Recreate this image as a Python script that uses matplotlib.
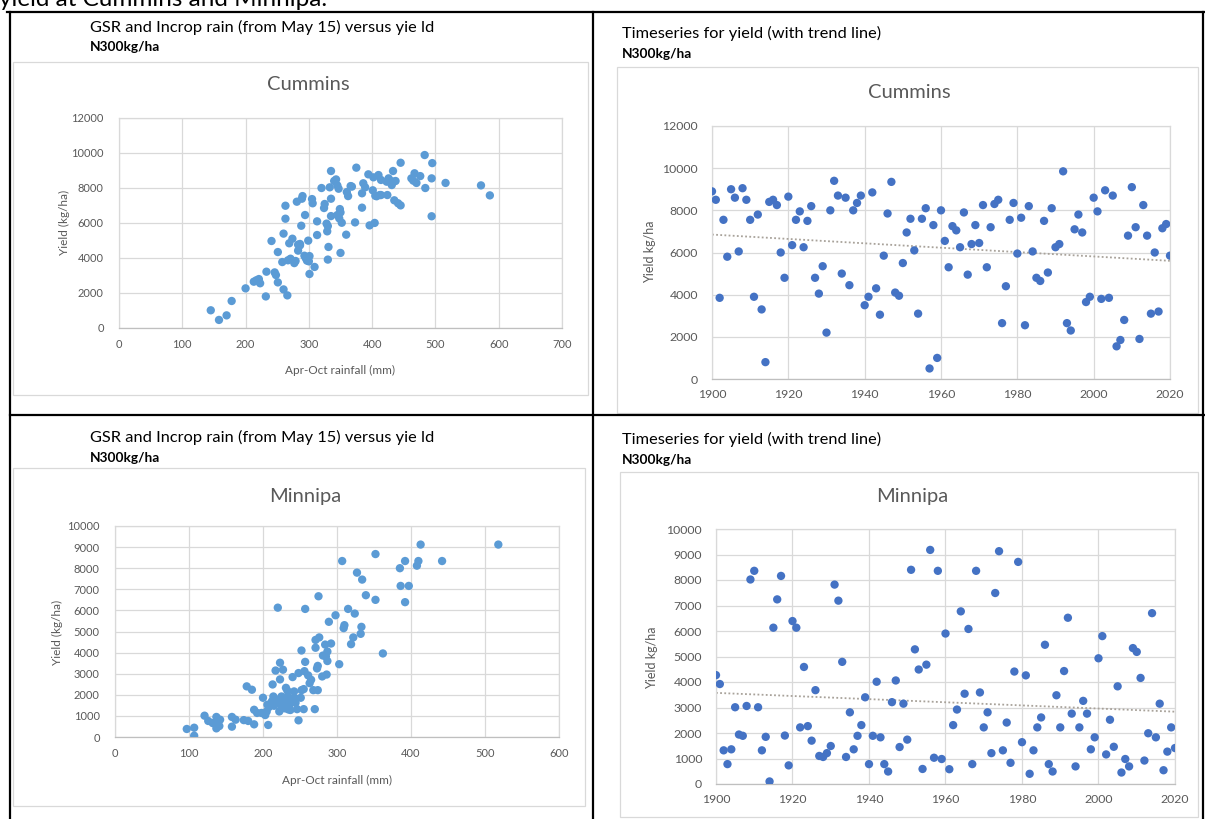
import numpy as np
import matplotlib
matplotlib.use("Agg")
import matplotlib.pyplot as plt
from matplotlib.lines import Line2D
from matplotlib.patches import Rectangle

plt.rcParams["font.family"] = ["Lato", "DejaVu Sans"]

# =========================
# Data
# =========================

YEARS = list(range(1900, 2021))

# Cummins yield by year (kg/ha)
CUMMINS_YIELD = [
    8900, 8500, 3850, 7550, 5800, 9000, 8600, 6050, 9050, 8500,
    7550, 3900, 7800, 3300, 800, 8400, 8500, 8250, 6000, 4800,
    8650, 6350, 7550, 7950, 6250, 7500, 8200, 4800, 4050, 5350,
    2200, 8000, 9400, 8700, 5000, 8600, 4450, 8000, 8350, 8700,
    3500, 3900, 8850, 4300, 3050, 5850, 7850, 9350, 4100, 3950,
    5500, 6950, 7600, 6100, 3100, 7600, 8100, 500, 7300, 1000,
    8000, 6550, 5300, 7250, 7050, 6250, 7900, 4950, 6400, 7300,
    6450, 8250, 5300, 7200, 8300, 8500, 2650, 4400, 7550, 8350,
    5950, 7650, 2550, 8200, 6050, 4800, 4650, 7500, 5050, 8100,
    6250, 6400, 9850, 2650, 2300, 7100, 7800, 6950, 3650, 3900,
    8600, 7950, 3800, 8950, 3850, 8700, 1550, 1850, 2800, 6800,
    9100, 7200, 1900, 8250, 6800, 3100, 6000, 3200, 7150, 7350,
    5850,
]

# Minnipa yield by year (kg/ha)
MINNIPA_YIELD = [
    4270, 3920, 1320, 780, 1360, 3010, 1940, 1890, 3060, 8020,
    8360, 3010, 1320, 1850, 100, 6130, 7240, 8160, 1900, 730,
    6390, 6130, 2220, 4590, 2270, 1700, 3680, 1100, 1060, 1210,
    1490, 7820, 7190, 4790, 1060, 2810, 1360, 1890, 2310, 3400,
    780, 1890, 4010, 1830, 780, 490, 3210, 4060, 1450, 3150,
    1740, 8400, 5280, 4490, 590, 4680, 9180, 1030, 8360, 980,
    5900, 580, 2310, 2920, 6770, 3540, 6080, 780, 8360, 3590,
    2220, 2810, 1210, 7490, 9130, 1320, 2410, 830, 4410, 8710,
    1640, 4260, 400, 1320, 2220, 2610, 5460, 780, 490, 3480,
    2220, 4430, 6520, 2760, 690, 2220, 3260, 2760, 1360, 1830,
    4930, 5800, 1160, 2520, 1460, 3830, 450, 980, 690, 5330,
    5180, 4160, 920, 1990, 6700, 1830, 3150, 540, 1270, 2220,
    1410,
]

# Cummins: Apr-Oct rainfall (mm) vs yield (kg/ha)
CUMMINS_RAIN = [
    145, 158, 170, 178, 200, 213, 217, 221, 223, 232, 233, 241, 246, 248,
    251, 251, 258, 260, 260, 263, 263, 266, 267, 269, 271, 274, 277, 279,
    281, 283, 283, 286, 288, 289, 290, 293, 294, 295, 297, 299, 300, 301,
    301, 305, 306, 309, 313, 313, 320, 324, 325, 328, 329, 330, 330, 331,
    333, 335, 335, 335, 340, 343, 345, 347, 348, 350, 350, 352, 359, 360,
    362, 366, 368, 373, 375, 384, 384, 386, 389, 394, 396, 401, 402, 404,
    405, 407, 410, 412, 414, 423, 424, 426, 429, 431, 433, 433, 435, 437,
    441, 445, 445, 462, 465, 467, 470, 476, 483, 484, 494, 494, 495, 516,
    572, 586, 286, 349, 345, 414, 298,
]
CUMMINS_RAIN_YIELD = [
    1010, 460, 720, 1540, 2260, 2640, 2720, 2790, 2550, 1800, 3210, 4960, 3170, 3020,
    4330, 2600, 3760, 2200, 5380, 6230, 6970, 1860, 3860, 4830, 3950, 5090, 3700, 3820,
    7200, 4750, 4410, 4790, 5830, 7370, 7520, 4120, 6440, 3990, 3840, 4980, 3800, 3080,
    4100, 7350, 7110, 3480, 5300, 6080, 7980, 6840, 7070, 5950, 5510, 5810, 3900, 4620,
    8020, 7370, 8950, 6380, 8380, 8470, 6440, 7940, 6250, 6590, 4280, 6000, 5320, 7750,
    7520, 8090, 8060, 6020, 9140, 6860, 7680, 8250, 8020, 8760, 5850, 7850, 8590, 5990,
    7540, 7510, 8720, 7580, 7580, 8340, 7580, 8530, 8380, 8150, 8950, 8340, 7280, 8380,
    7110, 6990, 9420, 8530, 8400, 8820, 8270, 8660, 9860, 7980, 8530, 6370, 9400, 8270,
    8130, 7560, 4710, 6780, 8130, 8440, 3970,
]

# Minnipa: Apr-Oct rainfall (mm) vs yield (kg/ha)
MINNIPA_RAIN = [
    97, 107, 107, 121, 126, 132, 137, 137, 139, 141, 142, 158, 158, 163,
    174, 178, 180, 185, 188, 188, 192, 198, 200, 203, 205, 207, 208, 212,
    213, 214, 215, 217, 220, 221, 222, 223, 223, 225, 227, 227, 229, 231,
    232, 234, 235, 237, 239, 240, 242, 244, 246, 248, 248, 251, 252, 252,
    255, 256, 257, 257, 261, 265, 268, 270, 271, 271, 273, 274, 274, 275,
    276, 280, 281, 284, 285, 286, 287, 287, 289, 292, 298, 303, 307, 309,
    310, 315, 319, 322, 324, 327, 332, 333, 334, 339, 352, 352, 362, 385,
    386, 392, 392, 397, 408, 410, 413, 442, 518, 206, 218, 233, 234, 243,
    225, 255, 263,
]
MINNIPA_RAIN_YIELD = [
    380, 440, 60, 1010, 760, 660, 950, 410, 620, 520, 820, 490, 950, 820,
    800, 2400, 760, 2240, 600, 1290, 1140, 1140, 1860, 1040, 1210, 570, 1420, 1690,
    2490, 1920, 1480, 3150, 6130, 1770, 1210, 2730, 3520, 1480, 3190, 1700, 1360, 2330,
    1610, 1920, 1470, 1280, 1730, 2840, 2160, 1620, 1320, 790, 3030, 1860, 2220, 4100,
    1320, 3120, 3560, 6070, 2920, 2710, 2220, 1320, 4600, 4230, 3250, 3370, 2220, 6670,
    4720, 2870, 3860, 4380, 3820, 2960, 3600, 4050, 5460, 4430, 5770, 3450, 8340, 5160,
    5300, 6070, 4400, 4720, 5850, 7790, 4890, 5220, 7460, 6720, 8670, 6500, 3960, 8000,
    7160, 8340, 6390, 7160, 8120, 8340, 9120, 8340, 9120, 1530, 1690, 2190, 1310, 1850,
    1920, 2270, 2550,
]

# =========================
# Style settings
# =========================

W, H = 1205, 819
GRID = "#D9D9D9"
TICK = "#595959"
SCATTER_BLUE = "#5B9BD5"
SERIES_BLUE = "#4472C4"
TREND = "#A8A29A"


def px_axes(fig, x0, y0, x1, y1):
    return fig.add_axes([x0 / W, 1 - y1 / H, (x1 - x0) / W, (y1 - y0) / H])


def fig_line(fig, x0, y0, x1, y1, lw=1.6):
    fig.add_artist(Line2D([x0 / W, x1 / W], [1 - y0 / H, 1 - y1 / H],
                          transform=fig.transFigure, color="black", linewidth=lw))


def chart_box(fig, x0, y0, x1, y1):
    fig.add_artist(Rectangle((x0 / W, 1 - y1 / H), (x1 - x0) / W, (y1 - y0) / H,
                             transform=fig.transFigure, fill=False,
                             edgecolor=GRID, linewidth=0.9))


def fig_text(fig, x, y, s, **kw):
    fig.text(x / W, 1 - y / H, s, **kw)


def style_axes(ax, xticks, yticks, xpad, ypad, size):
    ax.set_xlim(xticks[0], xticks[-1])
    ax.set_ylim(yticks[0], yticks[-1])
    ax.set_xticks(xticks)
    ax.set_yticks(yticks)
    ax.grid(True, color=GRID, linewidth=0.9)
    ax.set_axisbelow(True)
    for sp in ax.spines.values():
        sp.set_color(GRID)
        sp.set_linewidth(0.9)
    ax.spines["bottom"].set_color("#BFBFBF")
    ax.tick_params(length=0, labelsize=size, labelcolor=TICK)
    ax.tick_params(axis="x", pad=xpad)
    ax.tick_params(axis="y", pad=ypad)


def scatter_panel(fig, box, rain, yld, xticks, yticks, title, title_xy, xlabel_xy, ylabel_xy):
    ax = px_axes(fig, *box)
    ax.scatter(rain, yld, s=36, color=SCATTER_BLUE, edgecolors="none", zorder=3)
    style_axes(ax, xticks, yticks, xpad=8, ypad=11, size=8)
    fig_text(fig, *title_xy, title, fontsize=14.5, color=TICK, ha="center", va="center")
    fig_text(fig, *xlabel_xy, "Apr-Oct rainfall (mm)", fontsize=8.5, color=TICK,
             ha="center", va="center")
    fig_text(fig, *ylabel_xy, "Yield (kg/ha)", fontsize=8.5, color=TICK,
             ha="center", va="center", rotation=90)
    return ax


def timeseries_panel(fig, box, years, yld, yticks, title, title_xy, ylabel_xy):
    ax = px_axes(fig, *box)
    ax.scatter(years, yld, s=36, color=SERIES_BLUE, edgecolors="none", zorder=3)
    # linear trend line fitted to the series
    slope, icpt = np.polyfit(years, yld, 1)
    xs = np.array([years[0], years[-1]])
    ax.plot(xs, slope * xs + icpt, linestyle=(0, (1, 1.3)), color=TREND, linewidth=1.3, zorder=2)
    style_axes(ax, list(range(1900, 2021, 20)), yticks, xpad=7, ypad=10, size=8.8)
    fig_text(fig, *title_xy, title, fontsize=14.5, color=TICK, ha="center", va="center")
    fig_text(fig, *ylabel_xy, "Yield kg/ha", fontsize=9, color=TICK,
             ha="center", va="center", rotation=90)
    return ax


def main():
    fig = plt.figure(figsize=(W / 100, H / 100), dpi=100)
    fig.patch.set_facecolor("white")

    # paragraph line above the table, cut off by the top edge as in the screenshot
    fig_text(fig, -1, 6, "yield at Cummins and Minnipa.", fontsize=17.5, color="black",
             ha="left", va="baseline")

    # table borders
    fig_line(fig, 7, 12, 1205, 12)
    fig_line(fig, 10, 12, 10, 819)
    fig_line(fig, 593, 12, 593, 819)
    fig_line(fig, 10, 415, 1205, 415)
    fig_line(fig, 1203, 12, 1203, 819)

    # cell headings
    gsr = "GSR and Incrop rain (from May 15) versus yie ld"
    ts = "Timeseries for yield (with trend line)"
    for x, y, s in [(90, 27, gsr), (622, 33, ts), (90, 437, gsr), (622, 439, ts)]:
        fig_text(fig, x, y, s, fontsize=11.8, color="black", ha="left", va="center")
    for x, y in [(90, 47), (622, 54), (90, 458), (622, 460)]:
        fig_text(fig, x, y, "N300kg/ha", fontsize=9.8, color="black", fontweight="bold",
                 ha="left", va="center")

    # chart frames
    chart_box(fig, 13, 62, 588, 395)
    chart_box(fig, 617, 67, 1198, 413)
    chart_box(fig, 13, 468, 585, 806)
    chart_box(fig, 620, 472, 1198, 817)

    scatter_panel(fig, (119, 117.5, 562, 328), CUMMINS_RAIN, CUMMINS_RAIN_YIELD,
                  list(range(0, 701, 100)), list(range(0, 12001, 2000)),
                  "Cummins", (308, 85), (340, 370), (64, 222))
    timeseries_panel(fig, (712, 126, 1170, 379), YEARS, CUMMINS_YIELD,
                     list(range(0, 12001, 2000)), "Cummins", (909, 93), (650, 252))
    scatter_panel(fig, (115, 526, 559, 737), MINNIPA_RAIN, MINNIPA_RAIN_YIELD,
                  list(range(0, 601, 100)), list(range(0, 10001, 1000)),
                  "Minnipa", (305, 497), (337, 780), (57, 632))
    timeseries_panel(fig, (716, 529, 1175, 784), YEARS, MINNIPA_YIELD,
                     list(range(0, 10001, 1000)), "Minnipa", (912, 497), (652, 658))

    fig.savefig("out.png", dpi=100)
    plt.close(fig)


if __name__ == "__main__":
    main()
